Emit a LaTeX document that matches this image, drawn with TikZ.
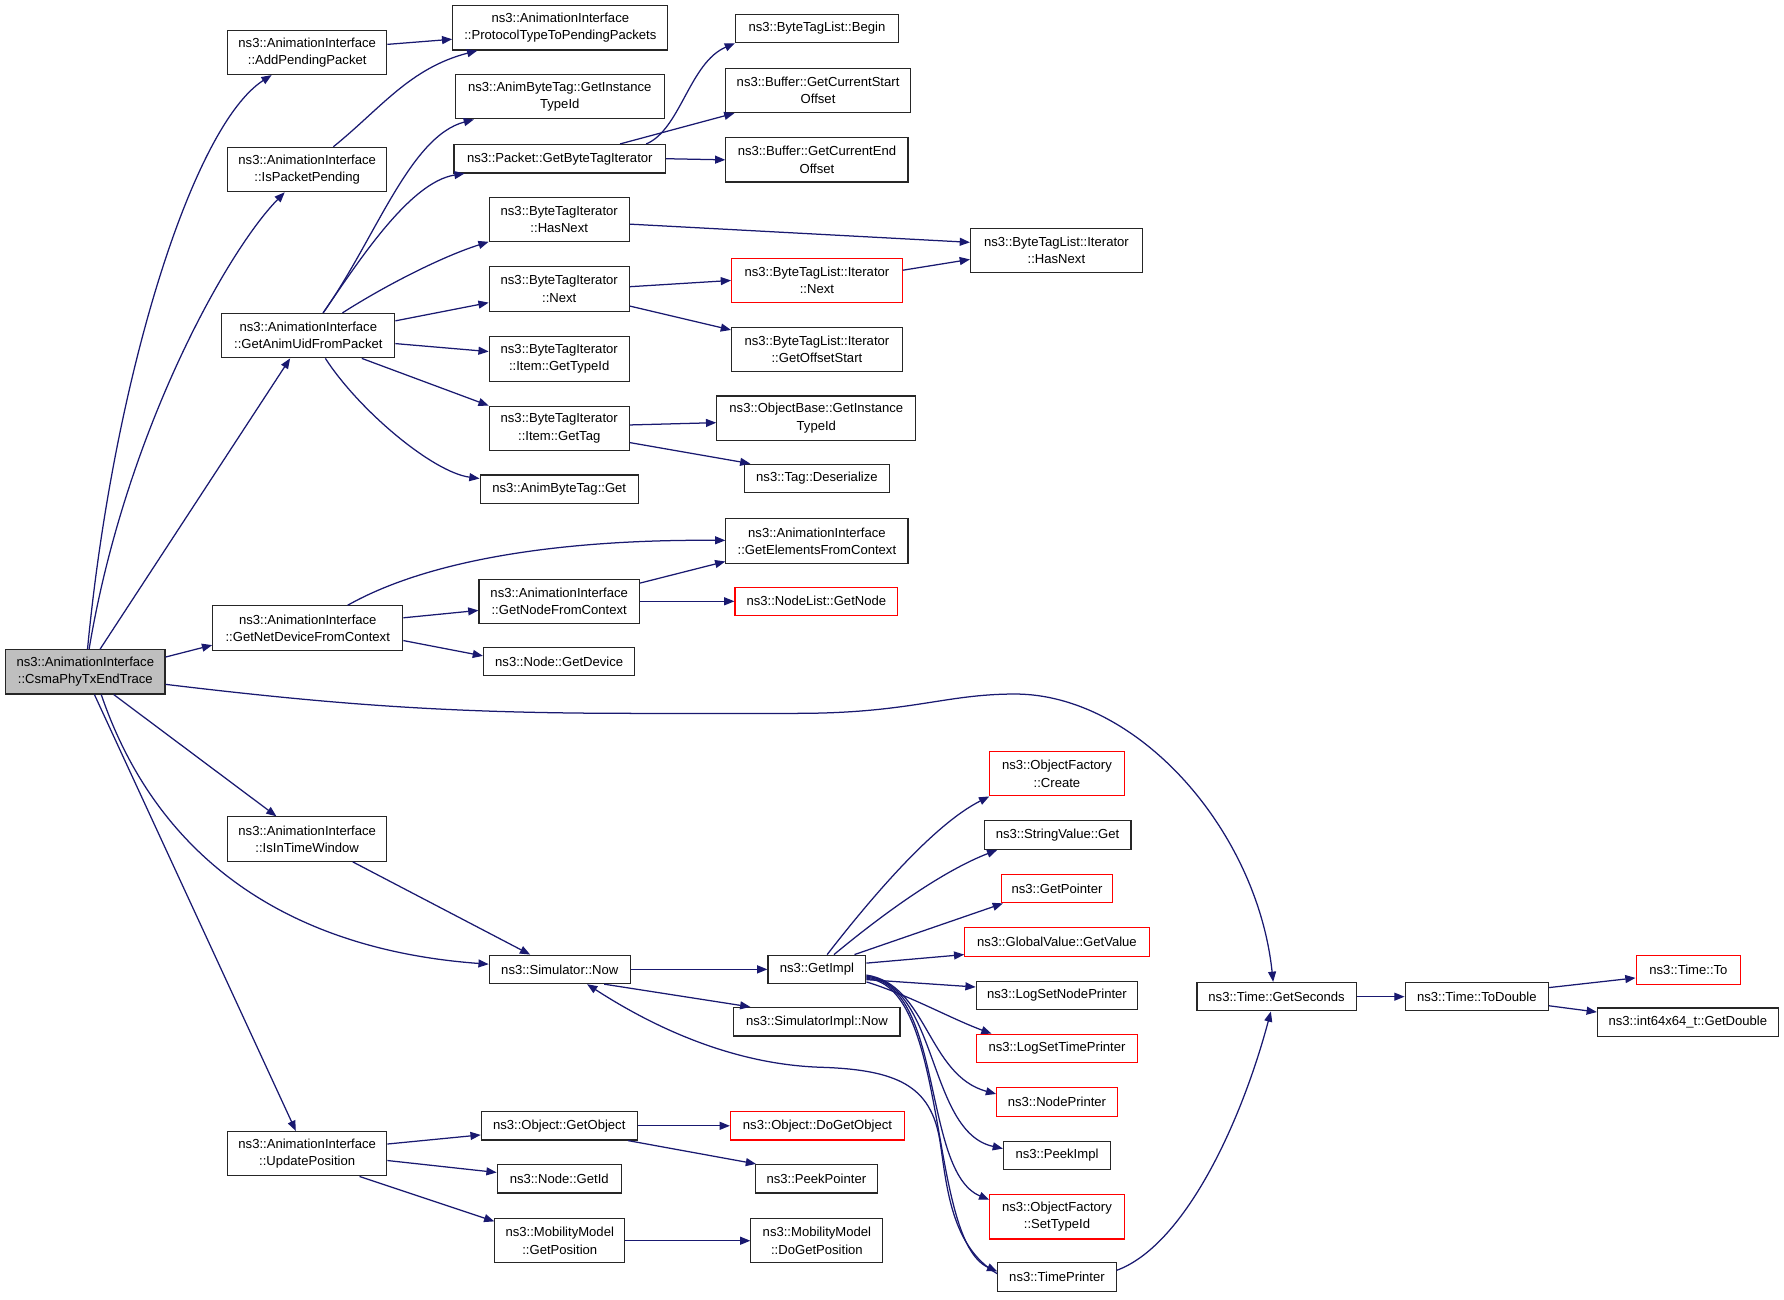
\documentclass[tikz,border=0pt]{standalone}
\usepackage{fontspec}
\setmainfont{Liberation Sans}
\usetikzlibrary{arrows.meta}
\definecolor{edgeblue}{HTML}{191970}
\definecolor{rootgray}{HTML}{BFBFBF}
\newcommand{\nodefnt}{\fontsize{11.5pt}{15.2pt}\selectfont}
\begin{document}
\begin{tikzpicture}[x=1pt,y=-1pt,
  box/.style={draw=black!85,line width=1pt,fill=white,inner sep=0pt,align=center,font=\nodefnt},
  redbox/.style={box,draw=red},
  rootbox/.style={box,fill=rootgray},
  oneline/.style={minimum height=25pt},
  twoline/.style={minimum height=39pt},
  call/.style={draw=edgeblue,line width=1.1pt,-{Triangle[length=9pt,width=7pt]}}]
\useasboundingbox (0,0) rectangle (1568,1142);

% column 1
\node[rootbox,twoline,minimum width=140pt] (root) at (75,590.5) {ns3::AnimationInterface\\::CsmaPhyTxEndTrace};
% column 2
\node[box,twoline,minimum width=140pt] (app) at (270,46) {ns3::AnimationInterface\\::AddPendingPacket};
\node[box,twoline,minimum width=140pt] (ipp) at (270,149) {ns3::AnimationInterface\\::IsPacketPending};
\node[box,twoline,minimum width=152pt] (anim) at (271,295) {ns3::AnimationInterface\\::GetAnimUidFromPacket};
\node[box,twoline,minimum width=167pt] (netdev) at (270.5,552) {ns3::AnimationInterface\\::GetNetDeviceFromContext};
\node[box,twoline,minimum width=140pt] (itw) at (270,737.5) {ns3::AnimationInterface\\::IsInTimeWindow};
\node[box,twoline,minimum width=140pt] (upd) at (270,1014) {ns3::AnimationInterface\\::UpdatePosition};
% column 3
\node[box,twoline,minimum width=189pt] (ptp) at (492.5,24.5) {ns3::AnimationInterface\\::ProtocolTypeToPendingPackets};
\node[box,twoline,minimum width=184pt] (abt) at (492,85) {ns3::AnimByteTag::GetInstance\\TypeId};
\node[box,oneline,minimum width=186pt] (pgbti) at (492,139.5) {ns3::Packet::GetByteTagIterator};
\node[box,twoline,minimum width=123pt] (hasnext) at (491.5,193) {ns3::ByteTagIterator\\::HasNext};
\node[box,twoline,minimum width=123pt] (next) at (491.5,254) {ns3::ByteTagIterator\\::Next};
\node[box,twoline,minimum width=123pt] (gtid) at (491.5,315.5) {ns3::ByteTagIterator\\::Item::GetTypeId};
\node[box,twoline,minimum width=123pt] (gtag) at (491.5,376.5) {ns3::ByteTagIterator\\::Item::GetTag};
\node[box,oneline,minimum width=139pt] (abtget) at (491.5,430) {ns3::AnimByteTag::Get};
\node[box,twoline,minimum width=141pt] (gnfc) at (491.5,528.5) {ns3::AnimationInterface\\::GetNodeFromContext};
\node[box,oneline,minimum width=133pt] (ngd) at (491.5,581.5) {ns3::Node::GetDevice};
\node[box,oneline,minimum width=124pt] (now) at (492,852) {ns3::Simulator::Now};
\node[box,oneline,minimum width=137pt] (ogo) at (491.5,989.5) {ns3::Object::GetObject};
\node[box,oneline,minimum width=109pt] (ngid) at (491.5,1036) {ns3::Node::GetId};
\node[box,twoline,minimum width=114pt] (mgp) at (492,1090.5) {ns3::MobilityModel\\::GetPosition};
% column 4
\node[box,oneline,minimum width=143pt] (begin) at (718,25) {ns3::ByteTagList::Begin};
\node[box,twoline,minimum width=162pt] (gcso) at (719,79.5) {ns3::Buffer::GetCurrentStart\\Offset};
\node[box,twoline,minimum width=160pt] (gceo) at (718,140.5) {ns3::Buffer::GetCurrentEnd\\Offset};
\node[redbox,twoline,minimum width=150pt] (btlnext) at (718,246.5) {ns3::ByteTagList::Iterator\\::Next};
\node[box,twoline,minimum width=150pt] (gos) at (718,307) {ns3::ByteTagList::Iterator\\::GetOffsetStart};
\node[box,twoline,minimum width=175pt] (obgit) at (717.5,367.5) {ns3::ObjectBase::GetInstance\\TypeId};
\node[box,oneline,minimum width=128pt] (tagd) at (718,420.5) {ns3::Tag::Deserialize};
\node[box,twoline,minimum width=160pt] (gefc) at (718,475.5) {ns3::AnimationInterface\\::GetElementsFromContext};
\node[redbox,oneline,minimum width=143pt] (nlgn) at (717.5,528.5) {ns3::NodeList::GetNode};
\node[box,oneline,minimum width=86pt] (gimpl) at (718,852) {ns3::GetImpl};
\node[box,oneline,minimum width=146pt] (simnow) at (718,898) {ns3::SimulatorImpl::Now};
\node[redbox,oneline,minimum width=153pt] (odgo) at (718.5,989.5) {ns3::Object::DoGetObject};
\node[box,oneline,minimum width=107pt] (pp) at (717.5,1036) {ns3::PeekPointer};
\node[box,twoline,minimum width=116pt] (mdgp) at (718,1090.5) {ns3::MobilityModel\\::DoGetPosition};
% column 5
\node[box,twoline,minimum width=151pt] (btlhn) at (928.5,220) {ns3::ByteTagList::Iterator\\::HasNext};
\node[redbox,twoline,minimum width=118pt] (ofc) at (929,680) {ns3::ObjectFactory\\::Create};
\node[box,oneline,minimum width=129pt] (svg) at (929.5,734) {ns3::StringValue::Get};
\node[redbox,oneline,minimum width=98pt] (gp) at (929,781) {ns3::GetPointer};
\node[redbox,oneline,minimum width=162pt] (gvgv) at (929,828) {ns3::GlobalValue::GetValue};
\node[box,oneline,minimum width=142pt] (lsnp) at (929,875) {ns3::LogSetNodePrinter};
\node[redbox,oneline,minimum width=142pt] (lstp) at (929,921.5) {ns3::LogSetTimePrinter};
\node[redbox,oneline,minimum width=106pt] (np) at (929,968.5) {ns3::NodePrinter};
\node[box,oneline,minimum width=94pt] (pi) at (929,1015.5) {ns3::PeekImpl};
\node[redbox,twoline,minimum width=118pt] (ofst) at (929,1069.5) {ns3::ObjectFactory\\::SetTypeId};
\node[box,oneline,minimum width=104pt] (tp) at (929,1122.5) {ns3::TimePrinter};
% columns 6-7
\node[box,oneline,minimum width=140pt] (gsec) at (1122,876) {ns3::Time::GetSeconds};
\node[box,oneline,minimum width=126pt] (todouble) at (1298,876) {ns3::Time::ToDouble};
\node[redbox,oneline,minimum width=92pt] (timeto) at (1484,852.5) {ns3::Time::To};
\node[box,oneline,minimum width=159pt] (gd) at (1483.5,898.5) {ns3::int64x64\_t::GetDouble};

% edges from root
\draw[call] (root) .. controls (100,330) and (170,110) .. (app);
\draw[call] (root) .. controls (110,380) and (200,220) .. (ipp);
\draw[call] ([xshift=13pt]root.north) -- ([xshift=-16pt]anim.south);
\draw[call] ([yshift=13pt]root.east) -- ([yshift=-15pt]netdev.west);
\draw[call] ([yshift=-11pt]root.east) .. controls (300,620) and (400,627) .. (560,627) -- (700,627)
  .. controls (800,627) and (830,610) .. (892,610) .. controls (1000,610) and (1105,730) .. ([xshift=-3pt]gsec.north);
\draw[call] ([xshift=25pt]root.south) -- ([xshift=-27pt]itw.north);
\draw[call] ([xshift=14pt]root.south) .. controls (140,760) and (260,835) .. (now);
\draw[call] ([xshift=8pt]root.south) -- ([xshift=-10pt]upd.north);

% column 2 edges
\draw[call] ([yshift=7pt]app.east) -- ([yshift=-10pt]ptp.west);
\draw[call] ([xshift=23pt]ipp.north) .. controls (335,95) and (360,60) .. ([xshift=-73pt]ptp.south);
\draw[call] ([xshift=13pt]anim.north) .. controls (330,210) and (360,120) .. (abt);
\draw[call] ([xshift=13pt]anim.north) .. controls (315,230) and (360,160) .. (pgbti);
\draw[call] ([xshift=30pt]anim.north) .. controls (340,250) and (390,225) .. (hasnext);
\draw[call] ([yshift=13pt]anim.east) -- ([yshift=-12pt]next.west);
\draw[call] ([yshift=-7pt]anim.east) -- ([yshift=6.5pt]gtid.west);
\draw[call] ([xshift=47pt]anim.south) -- (gtag.north west);
\draw[call] ([xshift=15pt]anim.south) .. controls (315,360) and (380,415) .. (abtget);
\draw[call] ([xshift=35pt]netdev.north) .. controls (380,490) and (500,474) .. (gefc);
\draw[call] ([yshift=9pt]netdev.east) -- ([yshift=-8pt]gnfc.west);
\draw[call] ([yshift=-11pt]netdev.east) -- ([yshift=5pt]ngd.west);
\draw[call] ([xshift=40pt]itw.south) -- ([xshift=-26pt]now.north);
\draw[call] ([yshift=8.5pt]upd.east) -- ([yshift=-8pt]ogo.west);
\draw[call] ([yshift=-6pt]upd.east) -- ([yshift=5.5pt]ngid.west);
\draw[call] ([xshift=46pt]upd.south) -- ([yshift=-3pt]mgp.north west);

% column 3 edges
\draw[call] ([xshift=76pt]pgbti.north) .. controls (598,114) and (606,55) .. (begin.south west);
\draw[call] ([xshift=53pt]pgbti.north) -- ([xshift=8pt]gcso.south west);
\draw[call] (pgbti.east) -- (gceo.west);
\draw[call] ([yshift=-4pt]hasnext.east) -- ([yshift=7pt]btlhn.west);
\draw[call] ([yshift=2pt]next.east) -- (btlnext.west);
\draw[call] ([yshift=-15pt]next.east) -- ([yshift=17pt]gos.west);
\draw[call] ([yshift=3pt]gtag.east) -- ([yshift=-4pt]obgit.west);
\draw[call] ([yshift=-12.5pt]gtag.east) -- ([xshift=6pt]tagd.north west);
\draw[call] ([yshift=16pt]gnfc.east) -- ([yshift=-18pt]gefc.west);
\draw[call] (gnfc.east) -- (nlgn.west);
\draw[call] (now.east) -- (gimpl.west);
\draw[call] ([xshift=39pt]now.south) -- ([xshift=15pt]simnow.north west);
\draw[call] (ogo.east) -- (odgo.west);
\draw[call] ([xshift=-8.5pt]ogo.south east) -- ([xshift=1pt]pp.north west);
\draw[call] (mgp.east) -- (mdgp.west);

% column 4 edges
\draw[call] ([yshift=9pt]btlnext.east) -- ([yshift=-8pt]btlhn.west);
\draw[call] ([xshift=9pt]gimpl.north) .. controls (765,790) and (820,725) .. (ofc.south west);
\draw[call] ([xshift=15pt]gimpl.north) .. controls (780,800) and (830,765) .. ([xshift=12pt]svg.south west);
\draw[call] ([xshift=33pt]gimpl.north) -- ([xshift=2pt]gp.south west);
\draw[call] ([yshift=5.5pt]gimpl.east) -- ([yshift=-11pt]gvgv.west);
\draw[call] ([yshift=-9pt]gimpl.east) -- ([yshift=7.5pt]lsnp.west);
\draw[call] ([yshift=-11pt]gimpl.east) .. controls (800,875) and (835,895) .. ([xshift=14pt]lstp.north west);
\draw[call] ([yshift=-5pt]gimpl.east) .. controls (815,865) and (815,945) .. ([yshift=7pt]np.west);
\draw[call] ([yshift=-6pt]gimpl.east) .. controls (825,865) and (815,995) .. ([yshift=6pt]pi.west);
\draw[call] ([yshift=-7pt]gimpl.east) .. controls (830,865) and (810,1030) .. ([yshift=15pt]ofst.west);
\draw[call] ([yshift=-8pt]gimpl.east) .. controls (835,865) and (815,1090) .. ([yshift=5pt]tp.west);

% TimePrinter edges
\draw[call] ([yshift=3pt]tp.west) .. controls (835,1095) and (832,1040) .. (826,1002)
  .. controls (818,955) and (790,940) .. (720,938) .. controls (640,935) and (570,900) .. ([xshift=24pt]now.south);
\draw[call] ([yshift=6pt]tp.east) .. controls (1040,1095) and (1090,990) .. ([xshift=-5pt]gsec.south);

% time edges
\draw[call] (gsec.east) -- (todouble.west);
\draw[call] ([yshift=8pt]todouble.east) -- ([yshift=-7pt]timeto.west);
\draw[call] ([yshift=-8pt]todouble.east) -- ([yshift=9pt]gd.west);
\end{tikzpicture}
\end{document}
